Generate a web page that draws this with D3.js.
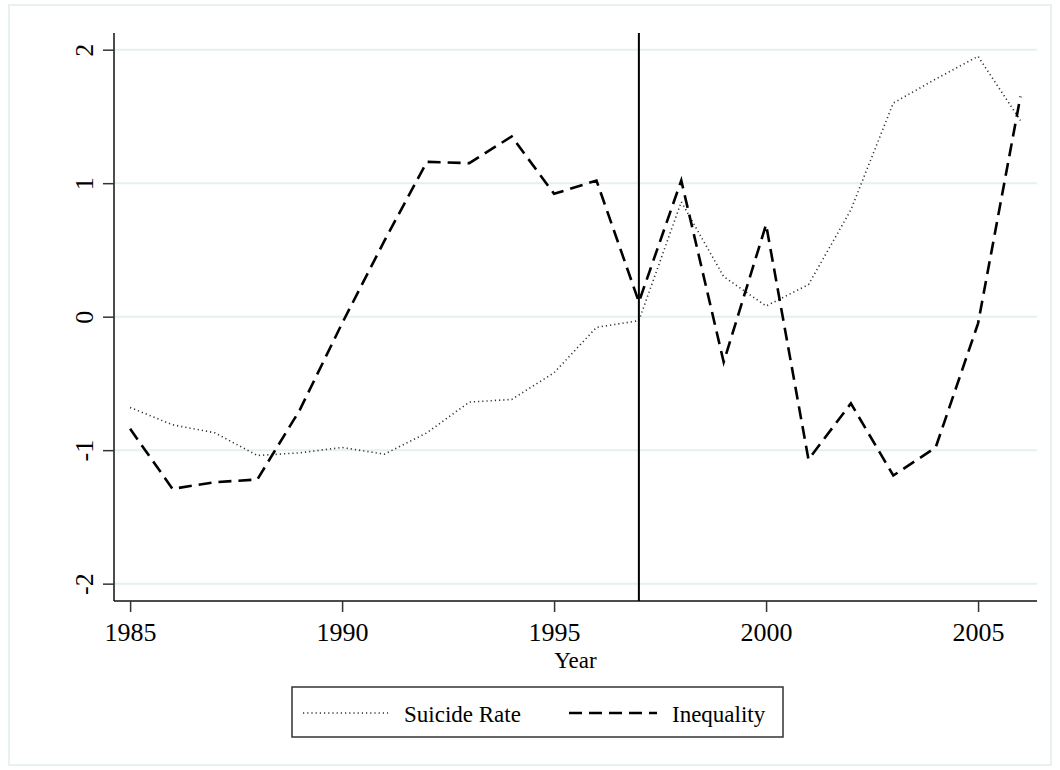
<!DOCTYPE html>
<html>
<head>
<meta charset="utf-8">
<script src="https://cdn.jsdelivr.net/npm/d3@7"></script>
<style>
  body { margin: 0; background: #fff; }
  svg text { font-family: "Liberation Serif", "Times New Roman", serif; fill: #000; }
</style>
</head>
<body>
<div id="chart"></div>
<script>
const years = d3.range(1985, 2007);
const suicideRate = [-0.68, -0.81, -0.87, -1.04, -1.02, -0.98, -1.03, -0.87, -0.64, -0.62, -0.42, -0.08,
                     -0.03, 0.86, 0.30, 0.08, 0.24, 0.80, 1.60, 1.78, 1.95, 1.47];
const inequality = [-0.84, -1.29, -1.24, -1.22, -0.70, -0.05, 0.57, 1.16, 1.15, 1.35, 0.92, 1.02,
                    0.11, 1.02, -0.34, 0.69, -1.07, -0.65, -1.19, -0.98, -0.05, 1.65];
const yTicks = [-2, -1, 0, 1, 2];
const xTicks = [1985, 1990, 1995, 2000, 2005];
const markYear = 1997;

const W = 1060, H = 770;
const plot = { left: 114, right: 1037, top: 33, bottom: 601 };

const svg = d3.select("#chart").append("svg")
    .attr("width", W)
    .attr("height", H);

// outer frame
svg.append("rect")
    .attr("x", 9).attr("y", 5)
    .attr("width", 1042).attr("height", 760)
    .attr("fill", "#fff")
    .attr("stroke", "#e8f0f2")
    .attr("stroke-width", 2);

const x = d3.scaleLinear().domain([1984.62, 2006.39]).range([plot.left, plot.right]);
const y = d3.scaleLinear().domain([-2.13, 2.125]).range([plot.bottom, plot.top]);

// grid lines
svg.append("g")
    .selectAll("line")
    .data(yTicks)
    .join("line")
    .attr("x1", plot.left).attr("x2", plot.right)
    .attr("y1", d => y(d)).attr("y2", d => y(d))
    .attr("stroke", "#e6eff1")
    .attr("stroke-width", 2);

// axes (plain hyphen for negatives, like the original)
const yAxis = svg.append("g")
    .attr("transform", `translate(${plot.left},0)`)
    .call(d3.axisLeft(y).tickValues(yTicks).tickSize(11).tickFormat(d => String(d)));
yAxis.select(".domain").attr("d", `M0,${plot.top}V${plot.bottom}`).attr("stroke", "#111").attr("stroke-width", 1.5);
yAxis.selectAll(".tick line").attr("stroke", "#333").attr("stroke-width", 1.5);
yAxis.selectAll(".tick text")
    .attr("font-size", 26)
    .attr("text-anchor", "middle")
    .attr("x", 0).attr("dy", 0)
    .attr("transform", "translate(-21,0) rotate(-90)");

const xAxis = svg.append("g")
    .attr("transform", `translate(0,${plot.bottom})`)
    .call(d3.axisBottom(x).tickValues(xTicks).tickSize(11).tickPadding(9).tickFormat(d => String(d)));
xAxis.select(".domain").attr("d", `M${plot.left},0H${plot.right}`).attr("stroke", "#111").attr("stroke-width", 1.5);
xAxis.selectAll(".tick line").attr("stroke", "#333").attr("stroke-width", 1.5);
xAxis.selectAll(".tick text").attr("font-size", 26).attr("dy", "0.75em");

svg.append("text")
    .attr("x", (plot.left + plot.right) / 2)
    .attr("y", 668)
    .attr("text-anchor", "middle")
    .attr("font-size", 23)
    .text("Year");

// series
const line = vals => d3.line()
    .x((d, i) => x(years[i]))
    .y(d => y(d))(vals);

svg.append("path")
    .attr("d", line(suicideRate))
    .attr("fill", "none")
    .attr("stroke", "#333")
    .attr("stroke-width", 1.6)
    .attr("stroke-dasharray", "1.2 3");

svg.append("path")
    .attr("d", line(inequality))
    .attr("fill", "none")
    .attr("stroke", "#000")
    .attr("stroke-width", 2.6)
    .attr("stroke-dasharray", "13 7");

// vertical reference line
svg.append("line")
    .attr("x1", x(markYear)).attr("x2", x(markYear))
    .attr("y1", plot.top).attr("y2", plot.bottom)
    .attr("stroke", "#000")
    .attr("stroke-width", 2);

// legend
const legend = svg.append("g");
legend.append("rect")
    .attr("x", 292).attr("y", 687)
    .attr("width", 491).attr("height", 50)
    .attr("fill", "#fff")
    .attr("stroke", "#333")
    .attr("stroke-width", 1.5);

const items = [
    { label: "Suicide Rate", x0: 303, x1: 388, tx: 404, stroke: "#333", w: 1.6, dash: "1.2 3" },
    { label: "Inequality", x0: 569, x1: 657, tx: 672, stroke: "#000", w: 2.6, dash: "13 7" }
];
items.forEach(it => {
    legend.append("line")
        .attr("x1", it.x0).attr("x2", it.x1)
        .attr("y1", 713).attr("y2", 713)
        .attr("stroke", it.stroke)
        .attr("stroke-width", it.w)
        .attr("stroke-dasharray", it.dash);
    legend.append("text")
        .attr("x", it.tx).attr("y", 722)
        .attr("font-size", 23)
        .text(it.label);
});
</script>
</body>
</html>
